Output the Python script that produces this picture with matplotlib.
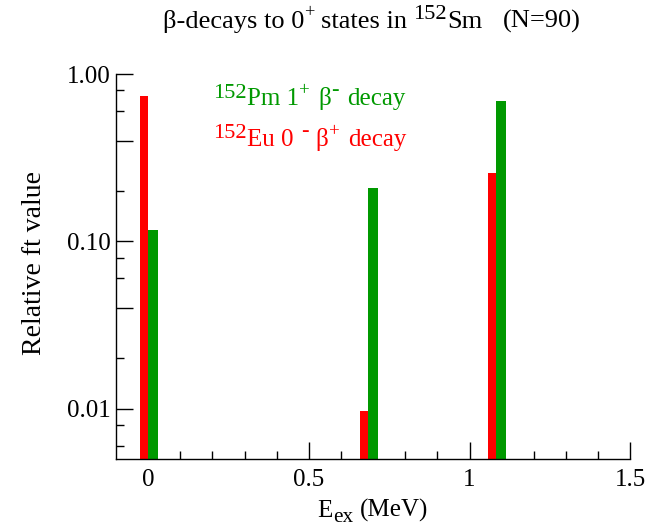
import matplotlib
matplotlib.use('Agg')
import matplotlib.pyplot as plt
from matplotlib.transforms import IdentityTransform
from matplotlib.ticker import FixedLocator, NullFormatter

plt.rcParams['font.family'] = ['Liberation Serif', 'DejaVu Serif']

# 0+ levels in 152Sm (MeV) and relative ft values for each feeding decay
energias = [0.0, 0.685, 1.083]
ft_eu = [0.74, 0.0096, 0.255]   # 152Eu 0- beta+ decay
ft_pm = [0.116, 0.207, 0.69]    # 152Pm 1+ beta- decay

ticks_x = [0, 0.5, 1, 1.5]
etiquetas_x = ['0', '0.5', '1', '1.5']
ticks_y = [0.01, 0.1, 1.0]
etiquetas_y = ['0.01', '0.10', '1.00']

VERDE = '#009900'
ROJO = '#ff0000'

W, H = 661, 528
fig = plt.figure(figsize=(W / 100, H / 100), dpi=100)
ax = fig.add_axes([0.1755, 0.1307, 0.7781, 0.7291])
renderer = fig.canvas.get_renderer()


def texto_partes(x0, y_top, partes, size, color='black', ha='left'):
    """Writes a line made of pieces (text, rel. size, raise in em, gap in em),
    so super/subscripts can have their own size. Coordinates in pixels,
    y measured from the top of the figure (baseline)."""
    base = H - y_top
    objs = []
    x = 0.0
    for texto, escala, subida, hueco in partes:
        x += hueco * size * 100 / 72
        t = fig.text(x0 + x, base + subida * size * 100 / 72, texto,
                     fontsize=size * escala, color=color, va='baseline',
                     ha='left', transform=IdentityTransform())
        x += t.get_window_extent(renderer).width
        objs.append(t)
    if ha == 'center':
        for t in objs:
            px, py = t.get_position()
            t.set_position((px - x / 2, py))
    return objs


ax.bar(energias, ft_eu, width=-0.026, align='edge', color=ROJO, bottom=1e-4, zorder=2)
ax.bar(energias, ft_pm, width=0.031, align='edge', color=VERDE, bottom=1e-4, zorder=2)

ax.set_yscale('log')
ax.set_xlim(-0.1, 1.5)
ax.set_ylim(0.005, 1.0)

ax.xaxis.set_major_locator(FixedLocator(ticks_x))
ax.set_xticklabels(etiquetas_x)
ax.xaxis.set_minor_locator(FixedLocator([0.1, 0.2, 0.3, 0.4, 0.6, 0.7, 0.8, 0.9,
                                         1.1, 1.2, 1.3, 1.4]))

# long unlabelled ticks at 0.04 and 0.4, short ones elsewhere
ax.yaxis.set_major_locator(FixedLocator(ticks_y + [0.04, 0.4]))
ax.set_yticklabels(etiquetas_y + ['', ''])
ax.yaxis.set_minor_locator(FixedLocator([0.006, 0.008, 0.02, 0.06, 0.08,
                                         0.2, 0.6, 0.8]))
ax.yaxis.set_minor_formatter(NullFormatter())

for lado in ['top', 'right']:
    ax.spines[lado].set_visible(False)
for lado in ['left', 'bottom']:
    ax.spines[lado].set_linewidth(1.0)

ax.tick_params(which='major', direction='in', length=12, width=1.0,
               labelsize=18)
ax.tick_params(axis='y', which='major', pad=4)
ax.tick_params(axis='x', which='major', pad=7)
ax.tick_params(which='minor', direction='in', length=6, width=1.0)

ax.set_ylabel('Relative ft value', fontsize=20)
ax.yaxis.set_label_coords(-0.135, 0.51)

# title
texto_partes(163, 28, [
    ('\u03b2-decays to 0', 1, 0, 0),
    ('+', 0.7, 0.4, 0),
    ('states in', 1, 0, 0.25),
    ('152', 0.85, 0.33, 0.25),
    ('Sm', 1, 0, 0),
    ('(N=90)', 1, 0, 0.75),
], 19)

# x axis label
texto_partes(373, 517, [
    ('E', 1, 0, 0),
    ('ex', 0.85, -0.2, 0),
    ('(MeV)', 1, 0, 0.3),
], 18, ha='center')

# decay labels
texto_partes(213, 105, [
    ('152', 0.9, 0.3, 0),
    ('Pm 1', 1, 0, 0),
    ('+', 0.75, 0.4, 0),
    ('\u03b2', 1, 0, 0.35),
    ('-', 0.9, 0.4, 0),
    ('decay', 1, 0, 0.35),
], 18, VERDE)
texto_partes(213, 146, [
    ('152', 0.9, 0.3, 0),
    ('Eu 0', 1, 0, 0),
    ('-', 0.9, 0.4, 0.3),
    ('\u03b2', 1, 0, 0.3),
    ('+', 0.75, 0.4, 0),
    ('decay', 1, 0, 0.35),
], 18, ROJO)

fig.savefig('out.png', dpi=100)
